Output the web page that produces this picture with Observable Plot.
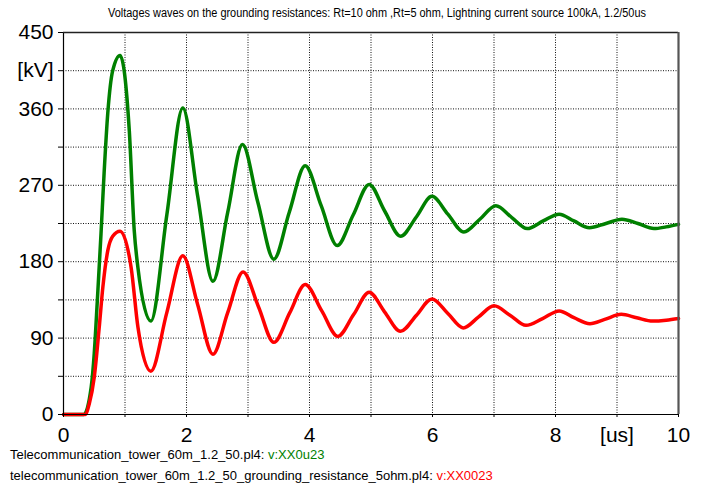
<!DOCTYPE html>
<html>
<head>
<meta charset="utf-8">
<script src="https://cdn.jsdelivr.net/npm/d3@7"></script>
<script src="https://cdn.jsdelivr.net/npm/@observablehq/plot@0.6"></script>
<style>
  html, body { margin: 0; padding: 0; background: #fff; }
  body { width: 706px; height: 483px; position: relative; overflow: hidden; font-family: "Liberation Sans", Arial, sans-serif; }
  #chart { position: absolute; left: 0; top: 0; }
  #title { position: absolute; left: 0; top: 6px; width: 706px; height: 16px; font-size: 12px; color: #000; z-index: 2; }
  #title span { display: inline-block; position: absolute; left: 377px; transform: translateX(-50%) scaleX(0.91); white-space: nowrap; }
  #legend { position: absolute; left: 10px; top: 447px; font-size: 13px; color: #000; white-space: nowrap; }
  #legend div { height: 21px; line-height: 15px; }
</style>
</head>
<body>
<div id="chart"></div>
<div id="title"><span>Voltages waves on the grounding resistances: Rt=10 ohm ,Rt=5 ohm, Lightning current source 100kA, 1.2/50us</span></div>
<div id="legend"></div>
<script>
// ---- data ----
const tGreen = [0, 0.33, 0.45, 0.5, 0.55, 0.61, 0.66, 0.72, 0.8, 0.92, 1.07, 1.15, 1.21, 1.42,
  1.68, 1.94, 2.18, 2.43, 2.67, 2.91, 3.16, 3.42, 3.67, 3.93, 4.19, 4.45, 4.71, 4.97, 5.22, 5.48,
  5.74, 5.99, 6.25, 6.51, 6.77, 7.03, 7.29, 7.54, 7.8, 8.06, 8.3, 8.55, 8.82, 9.08, 9.34, 9.6, 9.8, 10];
const vGreen = [0, 0, 32, 72, 134, 213, 284, 355, 405, 423, 334, 217, 173, 110,
  235, 361, 258, 157, 238, 318, 250, 183, 238, 293, 246, 199, 235, 271, 240, 210,
  233, 257, 236, 215, 230, 246, 232, 219, 228, 236, 228, 220, 225, 230, 225, 219, 221, 224];
const tRed = [0, 0.35, 0.42, 0.5, 0.58, 0.64, 0.72, 0.8, 0.92, 1.1, 1.21, 1.42,
  1.68, 1.94, 2.18, 2.43, 2.67, 2.92, 3.17, 3.42, 3.68, 3.93, 4.2, 4.46, 4.72, 4.97, 5.22, 5.48,
  5.74, 5.99, 6.25, 6.5, 6.75, 7.0, 7.26, 7.52, 7.79, 8.06, 8.3, 8.56, 8.8, 9.07, 9.32, 9.58, 9.8, 10];
const vRed = [0, 0, 13, 44, 102, 150, 193, 210, 216, 173, 103, 51,
  120, 187, 130, 71, 120, 168, 127, 85, 120, 153, 122, 92, 118, 144, 121, 98,
  117, 136, 119, 102, 115, 128, 117, 105, 113, 122, 114, 107, 112, 118, 114, 110, 111, 113];

const yTicks = [0, 45, 90, 135, 180, 225, 270, 315, 360, 405, 450];
const yTickLabels = ["0", "", "90", "", "180", "", "270", "", "360", "[kV]", "450"];
const xTicks = [0, 1, 2, 3, 4, 5, 6, 7, 8, 9, 10];
const xTickLabels = ["0", "", "2", "", "4", "", "6", "", "8", "[us]", "10"];
const gridX = [1, 2, 3, 4, 5, 6, 7, 8, 9];
const gridY = [45, 90, 135, 180, 225, 270, 315, 360, 405];

const legendFiles = ["Telecommunication_tower_60m_1.2_50.pl4: ", "telecommunication_tower_60m_1.2_50_grounding_resistance_5ohm.pl4: "];
const legendVars = ["v:XX0u23", "v:XX0023"];
const colors = ["#008000", "#ff0000"];

const green = tGreen.map((t, i) => ({t, v: vGreen[i]}));
const red = tRed.map((t, i) => ({t, v: vRed[i]}));

const yLab = new Map(yTicks.map((d, i) => [d, yTickLabels[i]]));
const xLab = new Map(xTicks.map((d, i) => [d, xTickLabels[i]]));

const chart = Plot.plot({
  width: 706,
  height: 446,
  marginTop: 32,
  marginBottom: 32,
  marginLeft: 63,
  marginRight: 28,
  style: {fontFamily: "'Liberation Sans', Arial, sans-serif", background: "#fff", overflow: "visible"},
  x: {domain: [0, 10], label: null},
  y: {domain: [0, 450], label: null},
  marks: [
    Plot.ruleX(gridX, {stroke: "#111", strokeWidth: 1, strokeDasharray: "1,1.5"}),
    Plot.ruleY(gridY, {stroke: "#111", strokeWidth: 1, strokeDasharray: "1,1.5"}),
    Plot.line(green, {x: "t", y: "v", stroke: colors[0], strokeWidth: 3.5, curve: "monotone-x"}),
    Plot.line(red, {x: "t", y: "v", stroke: colors[1], strokeWidth: 3.5, curve: "monotone-x"}),
    Plot.ruleX([0], {stroke: "#000", strokeWidth: 1.2}),
    Plot.ruleY([0], {stroke: "#000", strokeWidth: 1.2}),
    Plot.ruleY([450], {stroke: "#222", strokeWidth: 1.6}),
    Plot.ruleX([10], {stroke: "#555", strokeWidth: 2.2}),
    Plot.axisY(yTicks, {tickSize: 5, tickPadding: 5, fontSize: 21, tickFormat: d => yLab.get(d), stroke: "#000"}),
    Plot.axisX(xTicks, {tickSize: 3, tickPadding: 10, fontSize: 21, tickFormat: d => xLab.get(d), stroke: "#000"})
  ]
});
document.getElementById("chart").appendChild(chart);

const legend = document.getElementById("legend");
legendFiles.forEach((f, i) => {
  const row = document.createElement("div");
  row.textContent = f;
  const s = document.createElement("span");
  s.textContent = legendVars[i];
  s.style.color = colors[i];
  row.appendChild(s);
  legend.appendChild(row);
});
</script>
</body>
</html>
